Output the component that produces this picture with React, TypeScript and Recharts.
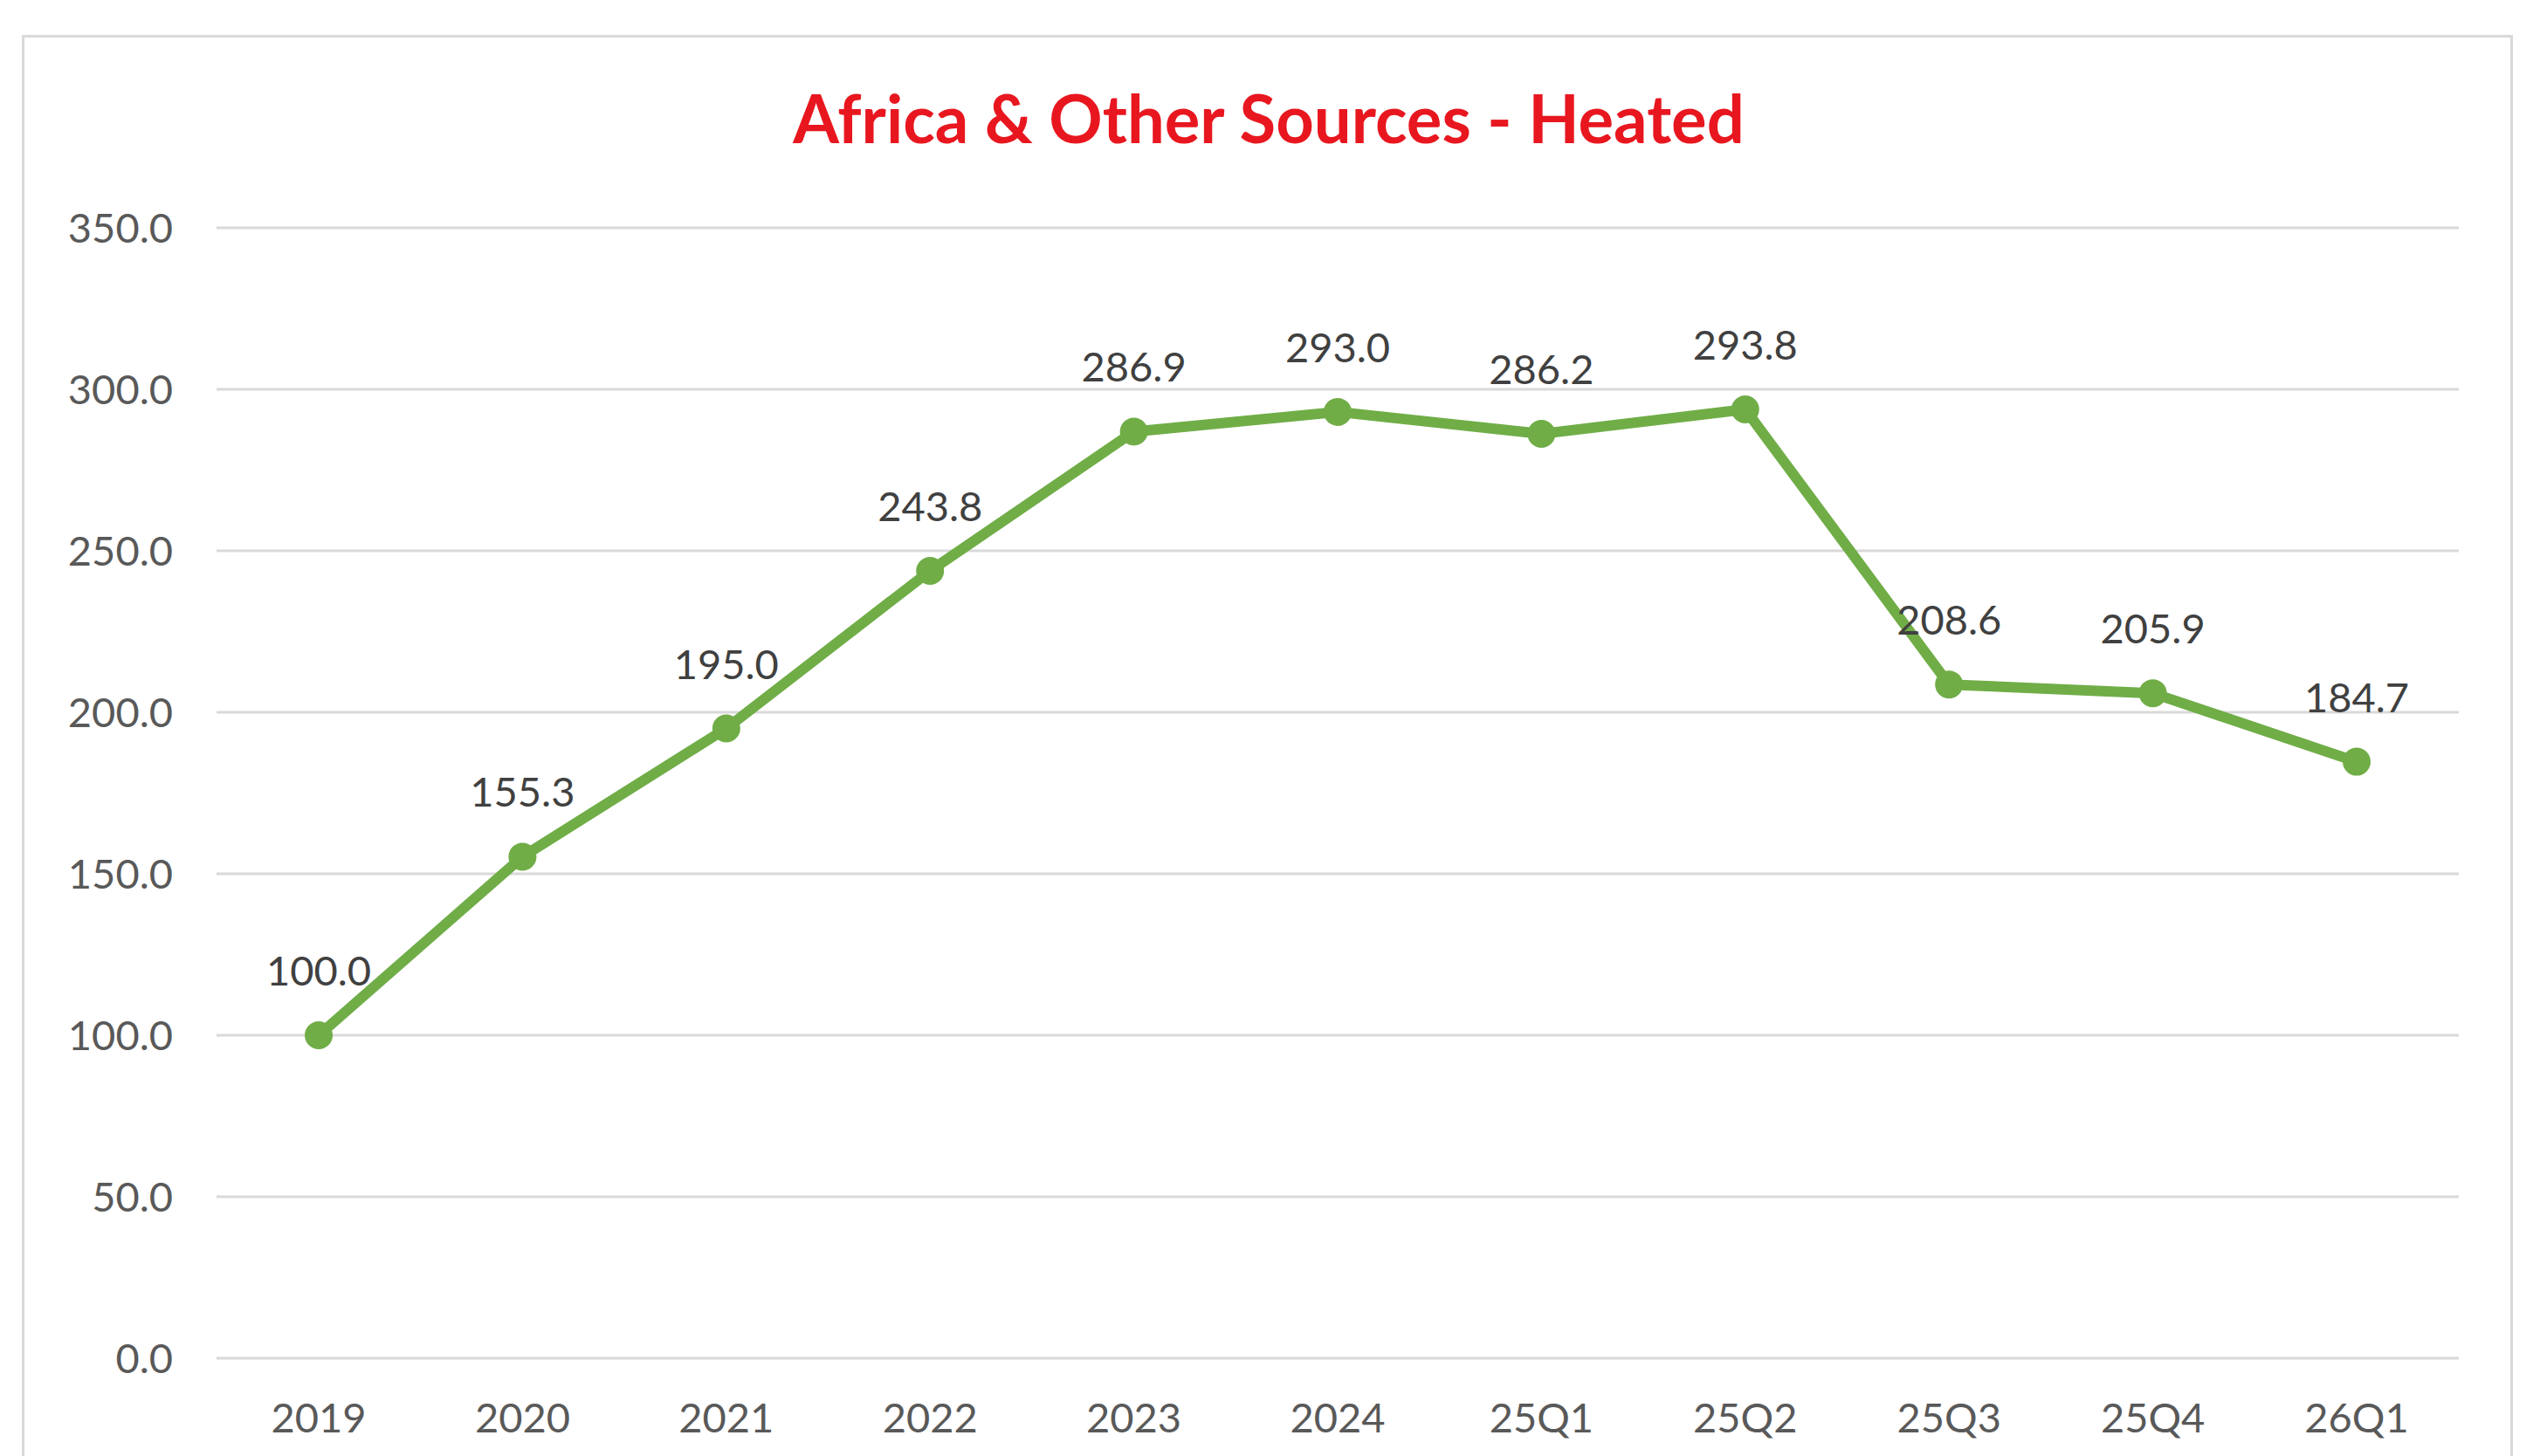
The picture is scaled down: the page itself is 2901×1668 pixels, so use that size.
import React from 'react';
import { LineChart, Line, XAxis, YAxis, CartesianGrid, LabelList } from 'recharts';

const categories = ['2019', '2020', '2021', '2022', '2023', '2024', '25Q1', '25Q2', '25Q3', '25Q4', '26Q1'];
const values = [100.0, 155.3, 195.0, 243.8, 286.9, 293.0, 286.2, 293.8, 208.6, 205.9, 184.7];
const yTicks = [0, 50, 100, 150, 200, 250, 300, 350];
const title = 'Africa & Other Sources - Heated';

const data = categories.map((c, i) => ({ cat: c, value: values[i] }));

const W = 2901;
const H = 1668;
const FONT = 'Lato, "Open Sans", sans-serif';

export default function App() {
  return (
    <div style={{ position: 'absolute', left: 0, top: 0, width: W, height: H, overflow: 'hidden', background: '#fff' }}>
      <div
        style={{
          position: 'absolute',
          left: 25,
          top: 40,
          width: 2853,
          height: 1700,
          border: '3px solid #D9D9D9',
          boxSizing: 'border-box',
        }}
      />
      <svg width={W} height={200} style={{ position: 'absolute', left: 0, top: 0 }}>
        <text
          x={1453}
          y={164}
          textAnchor="middle"
          fontFamily={FONT}
          fontWeight={700}
          fontSize={76}
          fill="#E8171F"
        >
          {title}
        </text>
      </svg>
      <div style={{ position: 'absolute', left: 0, top: 0 }}>
        <LineChart width={W} height={H} data={data} margin={{ top: 261, right: 85, bottom: 0, left: 48 }}>
          <CartesianGrid vertical={false} stroke="#D9D9D9" strokeWidth={3} />
          <XAxis
            dataKey="cat"
            height={112}
            axisLine={false}
            tickLine={false}
            tickSize={0}
            tickMargin={52}
            padding={{ left: 117, right: 117 }}
            tick={{ fill: '#595959', fontSize: 47, fontFamily: FONT }}
            interval={0}
          />
          <YAxis
            width={200}
            domain={[0, 350]}
            ticks={yTicks}
            axisLine={false}
            tickLine={false}
            tickSize={0}
            tickMargin={50}
            tickFormatter={(v: number) => v.toFixed(1)}
            tick={{ fill: '#595959', fontSize: 47, fontFamily: FONT }}
          />
          <Line
            type="linear"
            dataKey="value"
            stroke="#70AD47"
            strokeWidth={12}
            strokeLinejoin="round"
            dot={{ r: 16, fill: '#70AD47', stroke: 'none' }}
            activeDot={false}
            isAnimationActive={false}
          >
            <LabelList
              dataKey="value"
              position="top"
              offset={57}
              formatter={(v: number) => v.toFixed(1)}
              fill="#404040"
              fontSize={47}
              fontFamily={FONT}
            />
          </Line>
        </LineChart>
      </div>
    </div>
  );
}
